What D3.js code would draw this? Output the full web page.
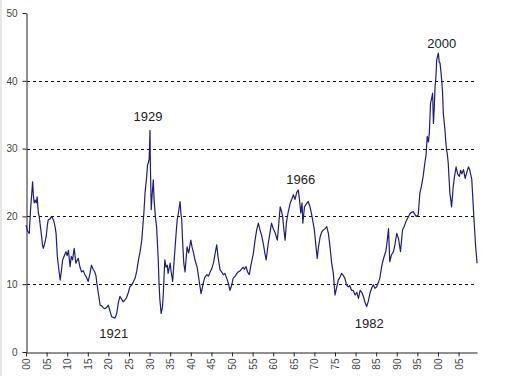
<!DOCTYPE html>
<html>
<head>
<meta charset="utf-8">
<script src="https://cdn.jsdelivr.net/npm/d3@7"></script>
<style>
  html, body { margin: 0; padding: 0; background: #ffffff; }
  svg { display: block; }
</style>
</head>
<body>
<svg id="chart" width="508" height="376"></svg>
<script>
// ---- data ----
const years = [
  1900.0,1900.4,1900.8,1901.1,1901.4,1901.6,1901.8,1902.0,1902.2,1902.5,1902.7,1903.0,1903.2,1903.5,1903.8,1904.0,1904.2,1904.5,1904.9,
  1905.2,1905.4,1905.8,1906.2,1906.5,1906.8,1907.1,1907.3,1907.6,1907.9,1908.3,1908.6,1908.9,1909.3,1909.7,
  1910.0,1910.3,1910.7,1911.0,1911.3,1911.7,1912.1,1912.4,1912.7,1913.1,1913.5,1913.9,1914.3,1914.7,
  1915.1,1915.5,1915.9,1916.3,1916.7,1917.0,1917.2,1917.6,1918.0,1918.4,1918.8,1919.2,1919.6,
  1920.0,1920.4,1920.8,1921.2,1921.6,1922.0,1922.4,1922.8,1923.2,1923.6,1924.0,1924.4,1924.8,
  1925.2,1925.7,1926.1,1926.5,1926.9,1927.3,1927.7,1928.1,1928.6,1928.9,1929.3,1929.5,1929.7,1929.9,
  1930.1,1930.2,1930.4,1930.6,1930.9,1931.1,1931.4,1931.7,1932.1,1932.3,1932.5,1932.8,1933.1,1933.3,1933.5,1933.7,1934.0,1934.3,1934.5,
  1935.0,1935.2,1935.6,1935.9,1936.2,1936.5,1936.7,1937.0,1937.4,1937.6,1937.8,1938.0,1938.3,1938.6,1938.9,1939.1,1939.5,
  1940.0,1940.3,1940.6,1941.0,1941.4,1941.6,1942.0,1942.5,1943.0,1943.4,1943.9,1944.3,1944.7,
  1945.1,1945.5,1945.9,1946.3,1946.6,1947.1,1947.5,1947.9,1948.3,1948.7,1949.1,1949.5,1949.9,
  1950.3,1950.8,1951.2,1951.5,1952.0,1952.4,1952.7,1953.0,1953.4,1953.8,1954.2,1954.6,
  1955.2,1955.6,1956.0,1956.4,1956.8,1957.2,1957.6,1958.0,1958.3,1958.8,1959.2,1959.6,
  1960.0,1960.4,1961.0,1961.3,1961.7,1962.0,1962.3,1962.6,1962.9,1963.2,1963.6,1964.1,1964.5,1964.9,
  1965.3,1965.7,1966.1,1966.4,1966.7,1967.0,1967.2,1967.6,1968.0,1968.5,1968.9,1969.3,
  1970.0,1970.4,1970.7,1971.0,1971.4,1971.8,1972.2,1972.6,1973.0,1973.4,1973.8,1974.2,1974.6,
  1975.0,1975.4,1975.8,1976.2,1976.6,1977.0,1977.4,1977.8,1978.2,1978.6,1979.0,1979.4,1979.9,
  1980.3,1980.7,1981.1,1981.5,1981.9,1982.3,1982.7,1983.1,1983.5,1983.9,1984.3,1984.7,
  1985.1,1985.5,1985.9,1986.3,1986.7,1987.0,1987.4,1987.7,1988.0,1988.3,1988.7,1989.2,1989.6,
  1990.0,1990.4,1990.9,1991.4,1991.8,1992.2,1992.7,1993.2,1993.6,1994.0,1994.4,1994.7,
  1995.2,1995.6,1996.0,1996.4,1996.8,1997.1,1997.4,1997.7,1997.9,1998.2,1998.5,1998.7,1998.9,1999.1,1999.3,1999.5,1999.7,1999.9,
  2000.1,2000.3,2000.5,2000.7,2000.9,2001.1,2001.3,2001.5,2001.7,2001.9,2002.1,2002.3,2002.5,2002.7,2002.9,
  2003.1,2003.3,2003.5,2003.7,2004.0,2004.4,2004.8,2005.2,2005.5,2005.8,2006.2,2006.6,2007.0,2007.4,2007.7,2007.9,
  2008.2,2008.4,2008.7,2008.9,2009.1,2009.3,2009.5
];
const peRatio = [
  18.7,17.8,17.5,21.0,23.4,25.1,23.0,22.0,22.4,22.0,22.9,20.5,20.0,18.5,17.0,15.8,15.3,15.9,17.0,
  18.8,19.5,19.6,20.0,19.7,19.2,18.3,17.5,14.1,12.5,10.6,12.0,13.6,14.2,14.8,
  14.2,15.0,12.6,14.1,13.6,15.3,13.1,13.5,13.8,12.5,11.8,12.0,11.4,11.0,
  10.4,11.5,12.8,12.2,11.8,11.2,10.1,8.5,6.9,6.8,6.5,6.4,6.6,
  6.9,6.0,5.2,5.1,5.0,5.6,7.2,8.2,7.8,7.4,7.7,8.0,8.7,
  9.6,9.9,10.4,10.9,12.0,13.6,14.8,16.5,20.4,23.5,25.9,27.6,27.9,28.5,
  32.7,27.3,21.0,23.0,25.4,22.4,20.0,18.5,13.6,10.0,7.7,5.7,6.5,8.2,11.0,13.6,12.5,12.8,11.6,
  13.1,12.0,10.4,13.0,15.5,18.0,19.5,20.5,22.2,20.5,19.5,16.5,13.1,11.8,14.0,15.5,14.6,
  16.5,15.5,14.8,13.6,12.8,12.3,10.6,8.6,10.1,11.0,11.4,11.2,11.8,
  12.3,13.1,14.5,15.8,14.1,12.1,11.8,11.4,11.6,10.9,10.2,9.1,9.8,
  10.9,11.2,11.6,11.8,12.0,12.3,12.5,12.2,12.6,11.8,11.4,12.8,
  14.6,16.5,18.0,19.0,18.0,17.2,16.0,14.5,13.6,16.0,17.5,19.0,
  18.2,17.7,16.5,18.5,21.4,20.8,20.0,18.0,16.5,19.0,20.5,21.9,22.5,23.2,
  22.5,23.5,23.9,22.4,20.5,22.0,19.0,21.4,21.8,22.2,21.5,20.4,
  18.0,15.5,13.8,15.5,17.0,17.7,18.0,18.2,18.5,17.5,15.5,13.1,11.6,
  8.4,9.5,10.6,11.0,11.6,11.3,10.9,9.9,9.6,9.8,9.1,9.1,8.4,
  8.8,7.9,9.1,8.8,8.2,7.3,6.7,7.5,8.7,9.4,9.9,9.4,
  9.6,10.2,10.9,12.5,13.6,14.2,15.0,16.5,18.2,13.3,14.3,14.8,16.0,
  17.5,16.8,14.8,18.0,18.5,19.2,19.8,20.4,20.6,20.7,20.3,20.0,
  20.2,23.4,24.5,25.9,27.8,29.0,31.8,31.0,32.3,36.7,37.5,38.2,33.7,36.0,39.2,40.5,43.1,43.6,
  44.1,42.8,42.6,41.5,40.1,38.5,35.2,34.0,32.7,31.0,29.8,29.0,27.8,25.5,23.4,
  22.5,21.4,22.8,24.4,25.8,27.3,26.2,25.9,26.8,26.3,26.9,25.6,26.5,27.3,26.9,26.3,
  25.5,23.4,20.0,18.0,16.0,14.5,13.1
];
const yTicks = [0, 10, 20, 30, 40, 50];
const gridValues = [10, 20, 30, 40];
const xTickYears = [1900,1905,1910,1915,1920,1925,1930,1935,1940,1945,1950,1955,1960,1965,1970,1975,1980,1985,1990,1995,2000,2005];
const xTickLabels = ["00","05","10","15","20","25","30","35","40","45","50","55","60","65","70","75","80","85","90","95","00","05"];
const annotationLabels = ["1921","1929","1966","1982","2000"];
const annotationYears = [1921.3, 1929.6, 1966.7, 1983.3, 2000.9];
const annotationValues = [2.0, 34.0, 24.8, 3.6, 44.8];

// ---- layout ----
const svg = d3.select("#chart");
const mLeft = 26, mTop = 13, mBottom = 352, mRight = 477.1;

const x = d3.scaleLinear().domain([1900, 2009.5]).range([mLeft, mRight]);
const y = d3.scaleLinear().domain([0, 50]).range([mBottom, mTop]);

// left frame strip
svg.append("rect").attr("x", 0).attr("y", 0).attr("width", 2).attr("height", 376).attr("fill", "#e6e6e6");

// gridlines
svg.append("g").selectAll("line").data(gridValues).join("line")
  .attr("x1", mLeft + 1).attr("x2", 475)
  .attr("y1", d => Math.round(y(d)) + 0.5).attr("y2", d => Math.round(y(d)) + 0.5)
  .attr("stroke", "#111").attr("stroke-width", 1).attr("stroke-dasharray", "3,3");

// y axis
const yAxis = svg.append("g").attr("transform", `translate(${mLeft + 0.5},0)`)
  .call(d3.axisLeft(y).tickValues(yTicks).tickSize(4).tickPadding(5).tickSizeOuter(0));
yAxis.select(".domain").attr("stroke", "#222");
yAxis.selectAll(".tick line").attr("stroke", "#222");
yAxis.selectAll("text").attr("font-family", "Liberation Sans, Arial, sans-serif")
  .attr("font-size", 10).attr("fill", "#444");

// x axis
const xAxis = svg.append("g").attr("transform", `translate(0,${mBottom + 0.5})`)
  .call(d3.axisBottom(x).tickValues(xTickYears).tickSize(4).tickSizeOuter(0)
    .tickFormat((d, i) => xTickLabels[i]));
xAxis.select(".domain").attr("stroke", "#222");
xAxis.selectAll(".tick line").attr("stroke", "#222");
xAxis.selectAll("text")
  .attr("font-family", "Liberation Sans, Arial, sans-serif")
  .attr("font-size", 10).attr("fill", "#444")
  .attr("transform", "rotate(-90)")
  .attr("text-anchor", "end")
  .attr("x", -6).attr("y", 0).attr("dy", "0.35em");

// line
const pts = years.map((yr, i) => [yr, peRatio[i]]);
const line = d3.line().x(d => x(d[0])).y(d => y(d[1]));
svg.append("path").datum(pts)
  .attr("d", line)
  .attr("fill", "none")
  .attr("stroke", "#1e1e7a")
  .attr("stroke-width", 1.2)
  .attr("stroke-linejoin", "round");

// annotations
svg.append("g").selectAll("text").data(annotationLabels).join("text")
  .attr("x", (d, i) => x(annotationYears[i]))
  .attr("y", (d, i) => y(annotationValues[i]))
  .attr("text-anchor", "middle")
  .attr("font-family", "Liberation Sans, Arial, sans-serif")
  .attr("font-size", 13)
  .attr("fill", "#222")
  .text(d => d);
</script>
</body>
</html>
